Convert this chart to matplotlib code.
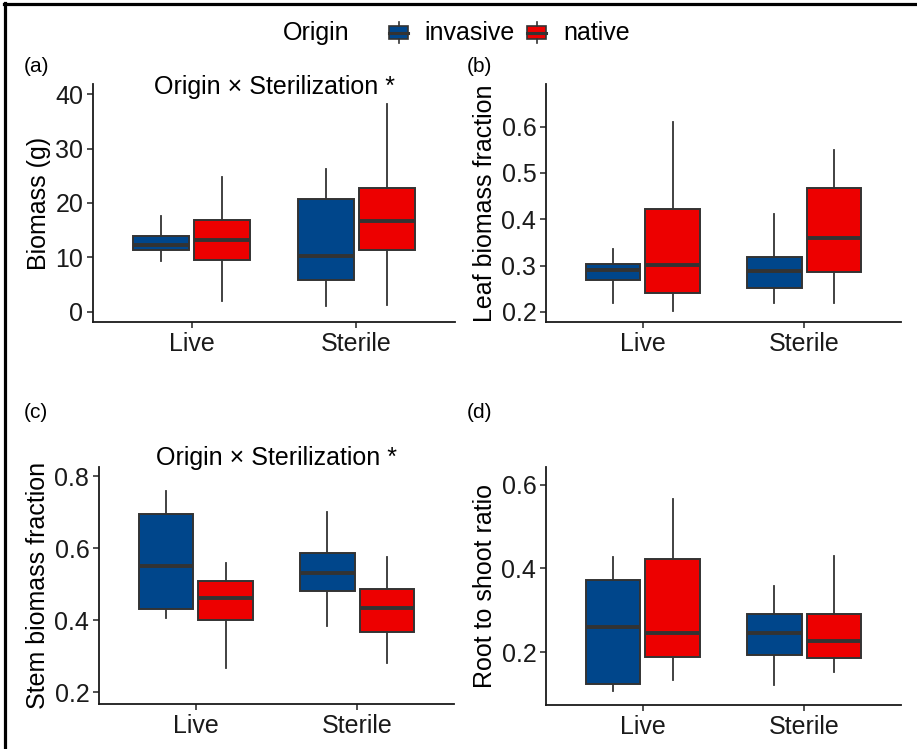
import matplotlib
matplotlib.use('Agg')
import matplotlib.pyplot as plt
from matplotlib.patches import Rectangle
from matplotlib.lines import Line2D

plt.rcParams['font.family'] = ['Liberation Sans', 'DejaVu Sans']

# categories / groups
sterilization = ['Live', 'Sterile']
origins = ['invasive', 'native']
colors = {'invasive': '#00468B', 'native': '#ED0000'}

# box stats per panel: [whislo, q1, med, q3, whishi] for Live, Sterile
biomass_inv = [[9.4, 11.3, 12.3, 14.0, 17.6], [1.1, 5.9, 10.2, 20.7, 26.2]]
biomass_nat = [[2.0, 9.6, 13.1, 16.9, 24.7], [1.3, 11.4, 16.7, 22.8, 38.3]]

leaf_inv = [[0.220, 0.268, 0.290, 0.303, 0.336], [0.219, 0.251, 0.289, 0.318, 0.411]]
leaf_nat = [[0.201, 0.241, 0.301, 0.422, 0.611], [0.219, 0.287, 0.360, 0.467, 0.550]]

stem_inv = [[0.406, 0.430, 0.551, 0.694, 0.760], [0.384, 0.481, 0.532, 0.586, 0.700]]
stem_nat = [[0.268, 0.401, 0.463, 0.508, 0.559], [0.280, 0.368, 0.433, 0.486, 0.577]]

rs_inv = [[0.107, 0.125, 0.260, 0.373, 0.427], [0.122, 0.193, 0.245, 0.292, 0.357]]
rs_nat = [[0.134, 0.189, 0.247, 0.422, 0.565], [0.153, 0.187, 0.226, 0.290, 0.430]]

FS = 18
W, H = 917, 749
fig = plt.figure(figsize=(W / 100, H / 100), dpi=100)


def px_axes(x0, y0, x1, y1):
    return fig.add_axes([x0 / W, 1 - y1 / H, (x1 - x0) / W, (y1 - y0) / H])


def draw_panel(ax, inv, nat, ylabel, ylim, yticks, ytl):
    for data, org, off in [(inv, 'invasive', -0.185), (nat, 'native', 0.185)]:
        stats = []
        for d in data:
            stats.append(dict(whislo=d[0], q1=d[1], med=d[2], q3=d[3], whishi=d[4], fliers=[]))
        ax.bxp(stats, positions=[1 + off, 2 + off], widths=0.34, patch_artist=True,
               showcaps=False, showfliers=False,
               boxprops=dict(facecolor=colors[org], edgecolor='#333333', linewidth=1.4),
               whiskerprops=dict(color='#333333', linewidth=1.3),
               medianprops=dict(color='#333333', linewidth=2.8, solid_capstyle='butt'))
    ax.set_xlim(0.4, 2.6)
    ax.set_ylim(*ylim)
    ax.set_xticks([1, 2])
    ax.set_xticklabels(sterilization)
    ax.set_yticks(yticks)
    ax.set_yticklabels(ytl)
    ax.set_ylabel(ylabel, fontsize=FS, labelpad=3)
    for s in ['top', 'right']:
        ax.spines[s].set_visible(False)
    for s in ['left', 'bottom']:
        ax.spines[s].set_linewidth(1.3)
        ax.spines[s].set_color('#1a1a1a')
    ax.tick_params(labelsize=FS, length=4, width=1.2, color='#333333', pad=3,
                   labelcolor='#1a1a1a')


ax_a = px_axes(93, 84, 455, 322)
draw_panel(ax_a, biomass_inv, biomass_nat, 'Biomass (g)', (-1.9, 41.9),
           [0, 10, 20, 30, 40], ['0', '10', '20', '30', '40'])
ax_a.text(1.5, 41.3, 'Origin × Sterilization *', ha='center', va='center',
          fontsize=FS, clip_on=False)

ax_b = px_axes(546, 84, 901, 322)
draw_panel(ax_b, leaf_inv, leaf_nat, 'Leaf biomass fraction', (0.178, 0.692),
           [0.2, 0.3, 0.4, 0.5, 0.6], ['0.2', '0.3', '0.4', '0.5', '0.6'])

ax_c = px_axes(99, 467, 454, 704)
draw_panel(ax_c, stem_inv, stem_nat, 'Stem biomass fraction', (0.167, 0.826),
           [0.2, 0.4, 0.6, 0.8], ['0.2', '0.4', '0.6', '0.8'])
ax_c.text(1.5, 0.851, 'Origin × Sterilization *', ha='center', va='center',
          fontsize=FS, clip_on=False)

ax_d = px_axes(546, 467, 901, 705)
draw_panel(ax_d, rs_inv, rs_nat, 'Root to shoot ratio', (0.074, 0.642),
           [0.2, 0.4, 0.6], ['0.2', '0.4', '0.6'])

# panel tags
for tag, x, y in [('(a)', 24, 66), ('(b)', 467, 66), ('(c)', 24, 413), ('(d)', 467, 413)]:
    fig.text(x / W, 1 - y / H, tag, ha='left', va='center', fontsize=15)

# legend drawn by hand (ggplot style, title on the left)
fig.text(283 / W, 1 - 33 / H, 'Origin', ha='left', va='center', fontsize=FS)
for org, kx, tx in [('invasive', 389, 424), ('native', 527, 563)]:
    fig.add_artist(Rectangle((kx / W, 1 - 39 / H), 19 / W, 13 / H, transform=fig.transFigure,
                             facecolor=colors[org], edgecolor='#333333', linewidth=1.2))
    cx = (kx + 9.5) / W
    fig.add_artist(Line2D([cx, cx], [1 - 22 / H, 1 - 26 / H], transform=fig.transFigure,
                          color='#333333', linewidth=1.2))
    fig.add_artist(Line2D([cx, cx], [1 - 39 / H, 1 - 43 / H], transform=fig.transFigure,
                          color='#333333', linewidth=1.2))
    fig.add_artist(Line2D([kx / W, (kx + 19) / W], [1 - 32.5 / H, 1 - 32.5 / H],
                          transform=fig.transFigure, color='#333333', linewidth=2.2))
    fig.text(tx / W, 1 - 33 / H, org, ha='left', va='center', fontsize=FS)

# outer frame (top and left edges)
fig.add_artist(Line2D([4 / W, 1], [1 - 4 / H, 1 - 4 / H], transform=fig.transFigure,
                      color='black', linewidth=2.3))
fig.add_artist(Line2D([5 / W, 5 / W], [0, 1 - 3 / H], transform=fig.transFigure,
                      color='black', linewidth=2.3))

fig.savefig('out.png', dpi=100)
plt.close(fig)
